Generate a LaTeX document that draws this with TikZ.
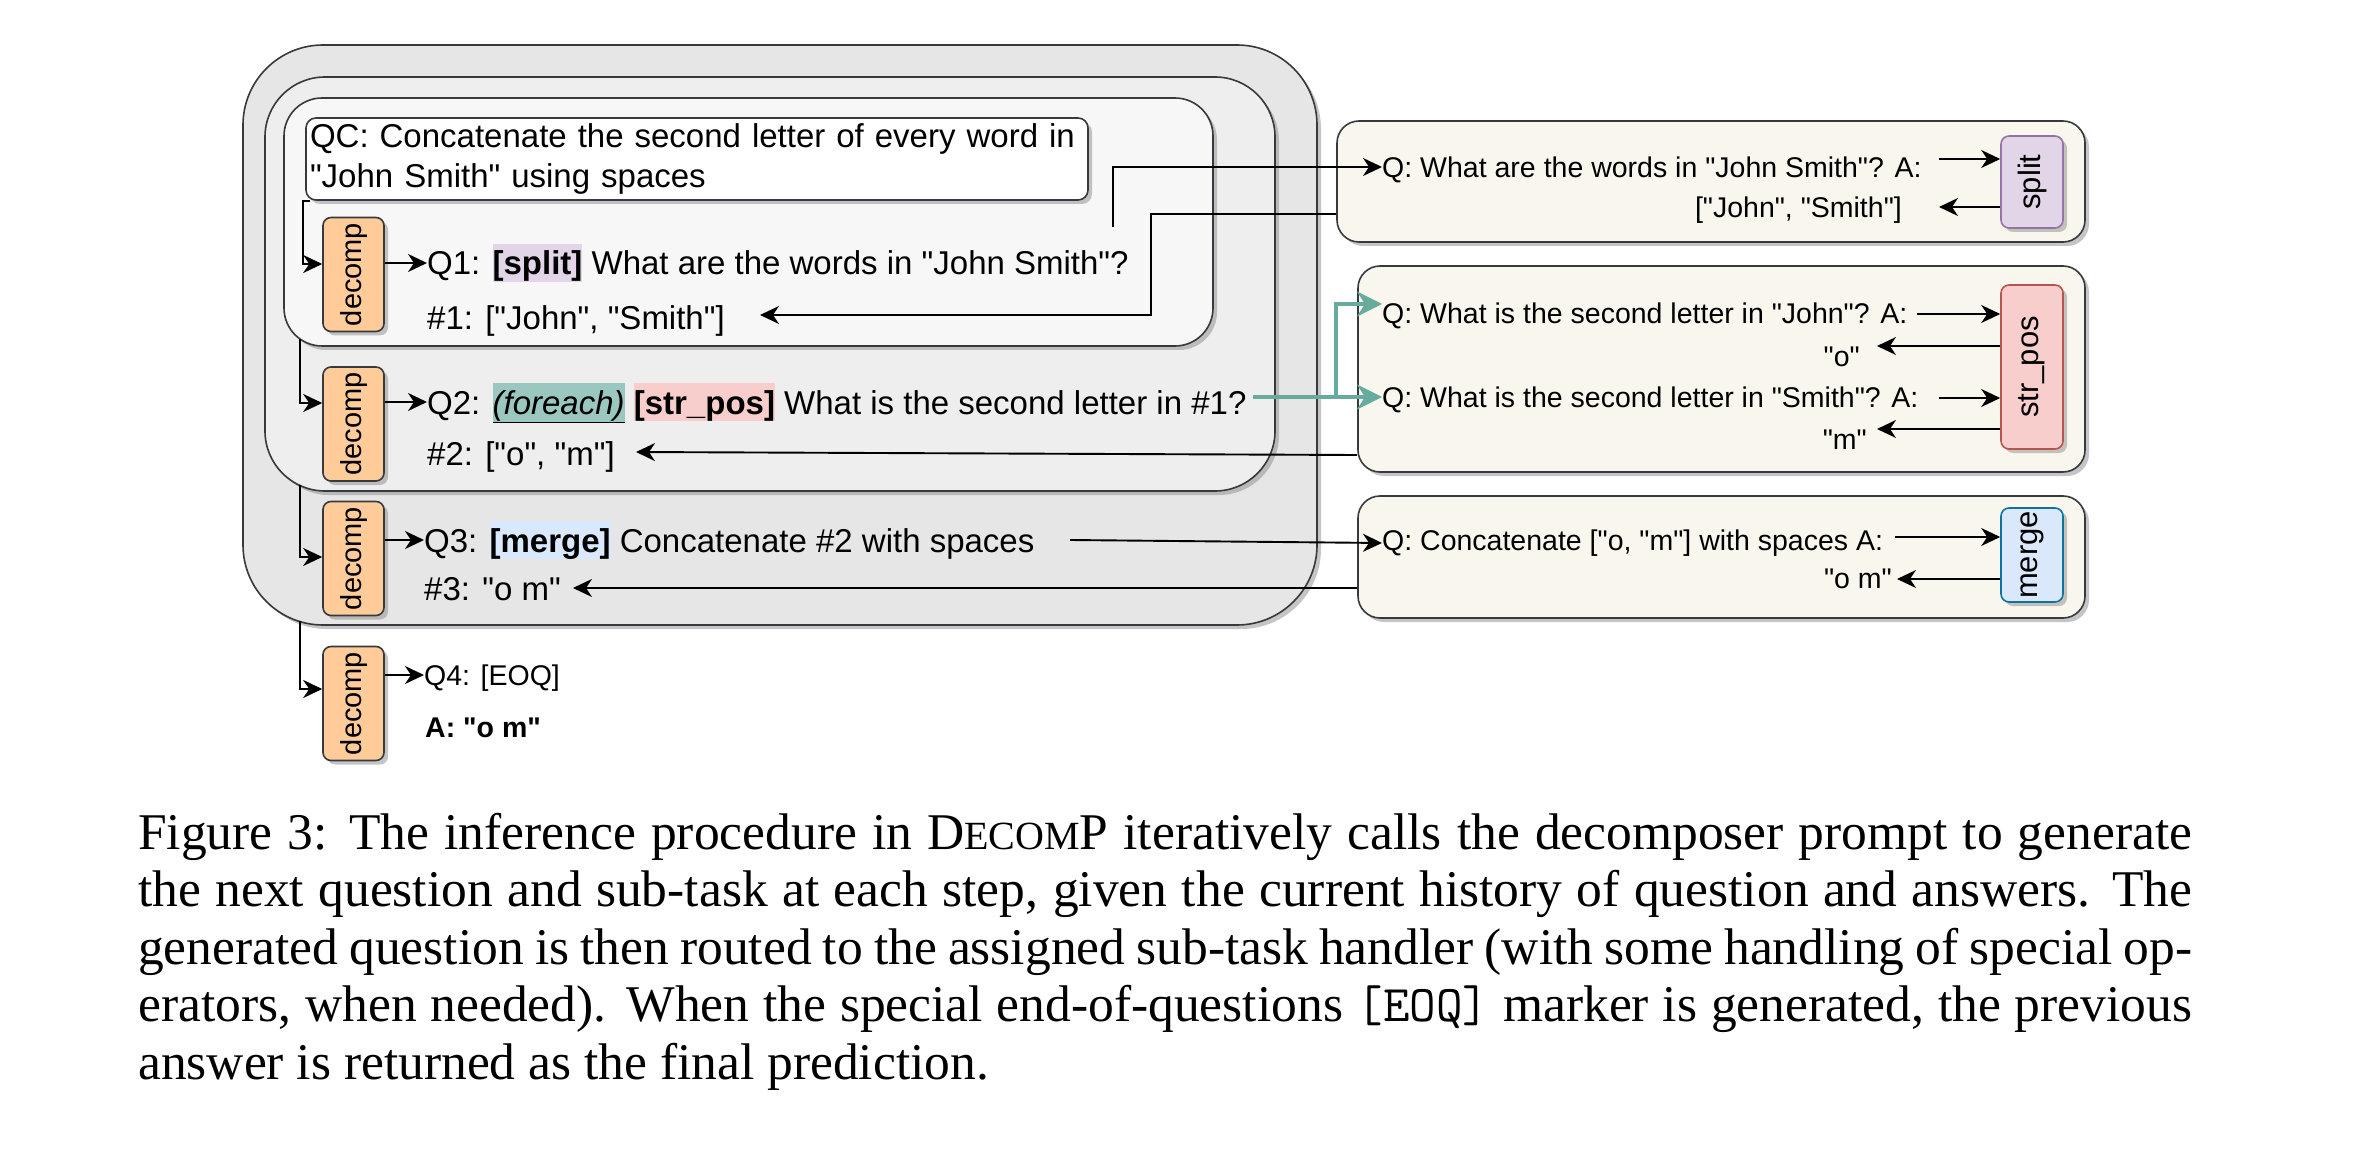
\documentclass[tikz,border=0pt]{standalone}
\usepackage{fontspec}
\usepackage{graphicx}
\setmainfont{Liberation Sans}[Ligatures=TeXOff]
\newfontfamily\capfont{Liberation Serif}
\usetikzlibrary{arrows.meta,shadows}
\definecolor{gOuter}{HTML}{E6E6E6}
\definecolor{gMid}{HTML}{EEEEEE}
\definecolor{gIn}{HTML}{F7F7F7}
\definecolor{edge}{HTML}{36393D}
\definecolor{cream}{HTML}{F9F7ED}
\definecolor{orng}{HTML}{FFCC99}
\definecolor{splitF}{HTML}{E1D5E7}
\definecolor{splitD}{HTML}{9673A6}
\definecolor{strF}{HTML}{F8CECC}
\definecolor{strD}{HTML}{B85450}
\definecolor{mergeF}{HTML}{DAE8FC}
\definecolor{mergeD}{HTML}{10739E}
\definecolor{tealL}{HTML}{67AB9F}
\definecolor{foreF}{HTML}{9AC7BF}
\newcommand\hlbox[2]{{\setlength{\fboxsep}{0pt}\colorbox{#1}{\rule[-5pt]{0pt}{36pt}#2}}}
\begin{document}
\begin{tikzpicture}[x=1pt,y=-1pt,
  shad/.style={drop shadow={shadow xshift=4pt,shadow yshift=-4pt,fill=black!45,opacity=0.5}},
  frame/.style={draw=edge,line width=1.6pt,inner sep=0pt,shad},
  dec/.style={frame,fill=orng,rounded corners=8pt,minimum width=61pt,minimum height=114pt,font=\fontsize{29}{34}\selectfont},
  tagbox/.style={draw=#1,line width=1.6pt,inner sep=0pt,shad,rounded corners=8pt,minimum width=62pt,font=\fontsize{31}{36}\selectfont},
  big/.style={inner sep=0pt,font=\fontsize{33}{40}\selectfont},
  sml/.style={inner sep=0pt,font=\fontsize{28.5}{34}\selectfont},
  arr/.style={line width=1.9pt,-{Stealth[length=19pt,width=18pt,inset=6pt]}},
  tarr/.style={draw=tealL,line width=3.5pt,-{Stealth[length=25pt,width=25pt,inset=8pt]}},
  capt/.style={inner sep=0pt,anchor=base west,font=\capfont\fontsize{51.5}{57.5}\selectfont},
]
\fill[white] (0,0) rectangle (2372,1155);
\useasboundingbox (0,0) rectangle (2372,1155);

% nested context boxes
\node[frame,fill=gOuter,rounded corners=80pt,minimum width=1074pt,minimum height=580pt] (outer) at (780,335) {};
\node[frame,fill=gMid,rounded corners=60pt,minimum width=1010pt,minimum height=414pt] (mid) at (770,284) {};
\node[frame,fill=gIn,rounded corners=38pt,minimum width=929pt,minimum height=248pt] (inner) at (748.5,222) {};
\node[frame,fill=white,rounded corners=10pt,minimum width=782pt,minimum height=82pt,text width=774pt,align=left,font=\fontsize{33}{40}\selectfont] (qc) at (697,159)
  {QC: Concatenate the second letter of every word in\\"John Smith" using spaces};

% decomposer boxes
\node[dec] (d1) at (353.5,274.5) {\rotatebox[origin=c]{90}{decomp}};
\node[dec] (d2) at (353.5,424) {\rotatebox[origin=c]{90}{decomp}};
\node[dec] (d3) at (353.5,558.5) {\rotatebox[origin=c]{90}{decomp}};
\node[dec] (d4) at (353.5,703.5) {\rotatebox[origin=c]{90}{decomp}};

% left texts
\node[big,anchor=base west] (q1) at (427,275) {Q1: \hlbox{splitF}{\textbf{[split]}} What are the words in "John Smith"?};
\node[big,anchor=base west] (a1) at (427,330) {\#1: ["John", "Smith"]};
\node[big,anchor=base west] (q2) at (427,414) {Q2: \hlbox{foreF}{\underline{\textit{(foreach)}}} \hlbox{strF}{\textbf{[str\_pos]}} What is the second letter in \#1?};
\node[big,anchor=base west] (a2) at (427,465) {\#2: ["o", "m"]};
\node[big,anchor=base west] (q3) at (424,552) {Q3: \hlbox{mergeF}{\textbf{[merge]}} Concatenate \#2 with spaces};
\node[big,anchor=base west] (a3) at (424,600) {\#3: "o m"};
\node[sml,anchor=base west] (q4) at (424,685) {Q4: [EOQ]};
\node[sml,anchor=base west] (a4) at (425,737) {\textbf{A: "o m"}};

% right handler boxes
\node[frame,fill=cream,rounded corners=22pt,minimum width=748pt,minimum height=121pt] (r1) at (1711,181.5) {};
\node[frame,fill=cream,rounded corners=22pt,minimum width=727pt,minimum height=206pt] (r2) at (1721.5,369) {};
\node[frame,fill=cream,rounded corners=22pt,minimum width=727pt,minimum height=122pt] (r3) at (1721.5,557) {};

\node[tagbox=splitD,fill=splitF,minimum height=92pt] (tsplit) at (2032,182) {\rotatebox[origin=c]{90}{split}};
\node[tagbox=strD,fill=strF,minimum height=164pt] (tstr) at (2032,367) {\rotatebox[origin=c]{90}{str\_pos}};
\node[tagbox=mergeD,fill=mergeF,minimum height=94pt] (tmerge) at (2032,555) {\rotatebox[origin=c]{90}{merge}};

\node[sml,anchor=base west] (r1a) at (1382,178) {Q: What are the words in "John Smith"? A:};
\node[sml,anchor=base east] (r1b) at (1902,218) {["John", "Smith"]};
\node[sml,anchor=base west] (r2a) at (1382,324) {Q: What is the second letter in "John"? A:};
\node[sml,anchor=base east] (r2b) at (1860,367) {"o"};
\node[sml,anchor=base west] (r2c) at (1382,408) {Q: What is the second letter in "Smith"? A:};
\node[sml,anchor=base east] (r2d) at (1867,449) {"m"};
\node[sml,anchor=base west] (r3a) at (1382,550) {Q: Concatenate ["o, "m"] with spaces A:};
\node[sml,anchor=base east] (r3b) at (1892,588) {"o m"};

% flow into decomposers
\coordinate (s2) at (300,339);
\coordinate (s3) at (300,485);
\coordinate (s4) at (300,621);
\draw[arr] ([xshift=5pt]qc.south west) -- ++(-7,0) |- (d1.west |- 0,264);
\draw[arr] (s2) |- (d2.west |- 0,403);
\draw[arr] (s3) |- (d3.west |- 0,557);
\draw[arr] (s4) |- (d4.west |- 0,689);

\draw[arr] (d1.east |- 0,263) -- (q1.west |- 0,263);
\draw[arr] (d2.east |- 0,402) -- (q2.west |- 0,402);
\draw[arr] (d3.east |- 0,540) -- (q3.west |- 0,540);
\draw[arr] (d4.east |- 0,675) -- (q4.west |- 0,675);

% Q1 <-> split
\coordinate (q1o) at (1113,227);
\coordinate (k1) at (1151,214);
\coordinate (e1) at (760,315);
\draw[arr] (q1o) |- (r1a.west |- 0,167);
\draw[arr] (r1.west |- k1) -- (k1) |- (e1);

% Q2 -> str_pos (foreach), answer back
\coordinate (t0) at (1253,397);
\coordinate (tb) at (1336,397);
\draw[tarr] (t0) -- (r2c.west |- 0,397);
\draw[tarr] (tb) |- (r2a.west |- 0,304);
\coordinate (e2) at (636,452);
\draw[arr] (r2.west |- 0,455) -- (e2);

% Q3 -> merge, answer back
\coordinate (q3o) at (1070,540);
\coordinate (e3) at (573,588);
\draw[arr] (q3o) -- (r3a.west |- 0,543);
\draw[arr] (r3.west |- 0,588) -- (e3);

% handler arrows
\coordinate (h1) at (1939,159);
\coordinate (h2) at (1939,207);
\coordinate (h3) at (1917,314);
\coordinate (h4) at (1877,346);
\coordinate (h5) at (1939,398);
\coordinate (h6) at (1877,429);
\coordinate (h7) at (1895,537);
\coordinate (h8) at (1897,579);
\draw[arr] (h1) -- (tsplit.west |- h1);
\draw[arr] (tsplit.west |- h2) -- (h2);
\draw[arr] (h3) -- (tstr.west |- h3);
\draw[arr] (tstr.west |- h4) -- (h4);
\draw[arr] (h5) -- (tstr.west |- h5);
\draw[arr] (tstr.west |- h6) -- (h6);
\draw[arr] (h7) -- (tmerge.west |- h7);
\draw[arr] (tmerge.west |- h8) -- (h8);

% caption
\node[capt] (cap1) at (138,849) {\makebox[2054pt][s]{Figure 3: The inference procedure in D{\fontsize{40}{40}\selectfont ECOM}P iteratively calls the decomposer prompt to generate}};
\node[capt] (cap2) at (138,906.5) {\makebox[2054pt][s]{the next question and sub-task at each step, given the current history of question and answers. The}};
\node[capt] (cap3) at (138,964) {\makebox[2054pt][s]{generated question is then routed to the assigned sub-task handler (with some handling of special op-}};
\node[capt] (cap4) at (138,1021.5) {\makebox[2054pt][s]{erators, when needed). When the special end-of-questions \texttt{[EOQ]} marker is generated, the previous}};
\node[capt] (cap5) at (138,1079) {answer is returned as the final prediction.};
\end{tikzpicture}
\end{document}
